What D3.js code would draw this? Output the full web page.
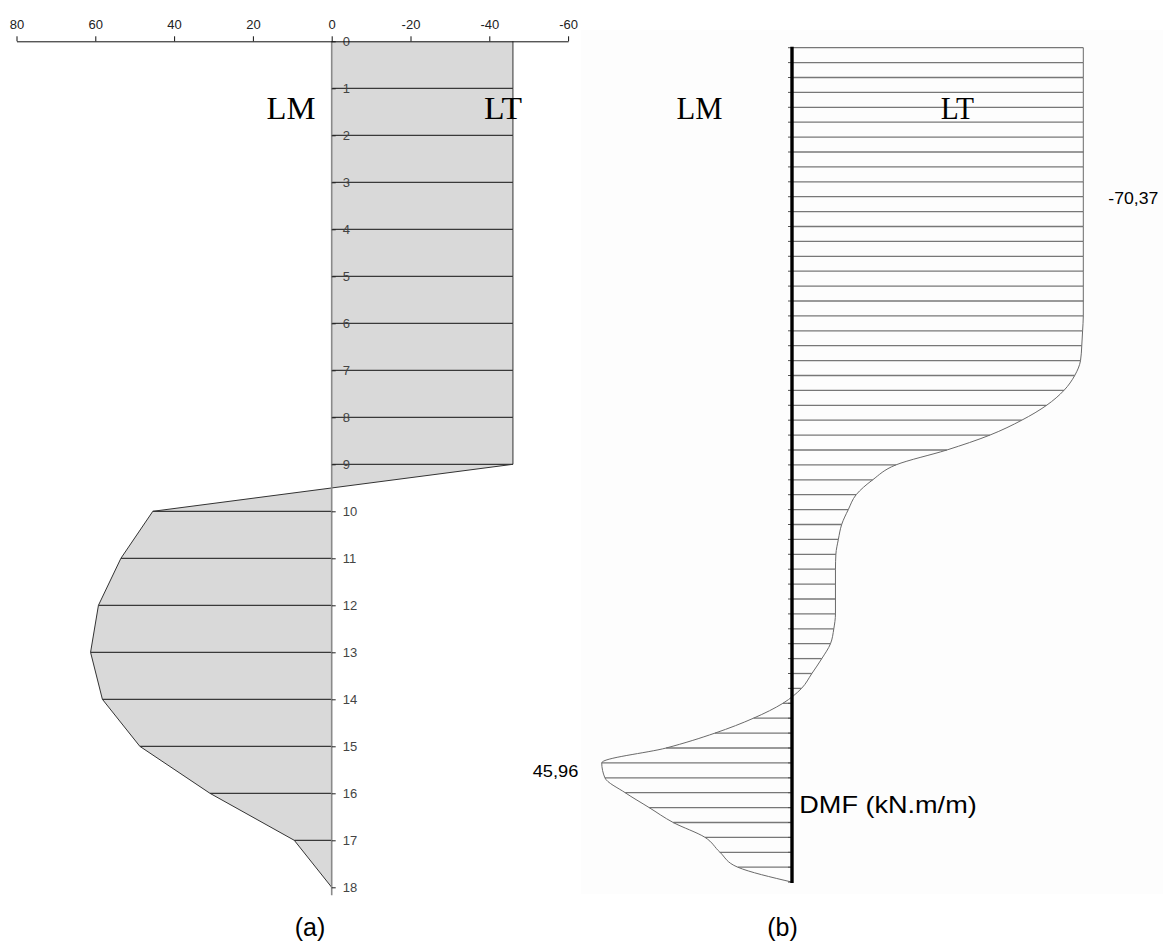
<!DOCTYPE html>
<html>
<head>
<meta charset="utf-8">
<script src="https://cdn.jsdelivr.net/npm/d3@7"></script>
<style>
  html, body { margin: 0; padding: 0; background: #ffffff; }
  svg { display: block; }
</style>
</head>
<body>
<svg id="chart" width="1163" height="945"></svg>
<script>
// ---- (a) bending moment profile, metres of depth vs kN.m/m ----
const depthA = [0, 1, 2, 3, 4, 5, 6, 7, 8, 9, 10, 11, 12, 13, 14, 15, 16, 17, 18];
const momentA = [-46, -46, -46, -46, -46, -46, -46, -46, -46, -46,
                 45.4, 53.5, 59.2, 61.2, 58.2, 48.7, 30.9, 9.5, 0];
const momentTicksA = [80, 60, 40, 20, 0, -20, -40, -60];

// ---- (b) DMF envelope, one value per hatch section ----
const sectionB = [0, 1, 2, 3, 4, 5, 6, 7, 8, 9, 10, 11, 12, 13, 14, 15, 16, 17, 18, 19,
                  20, 21, 22, 23, 24, 25, 26, 27, 28, 29, 30, 31, 32, 33, 34, 35, 36, 37, 38, 39,
                  40, 41, 42, 43, 44, 45, 46, 47, 48, 49, 50, 51, 52, 53, 54, 55, 56];
const momentB = [-70.37, -70.37, -70.37, -70.37, -70.37, -70.37, -70.37, -70.37, -70.37, -70.37,
                 -70.37, -70.37, -70.37, -70.37, -70.37, -70.37, -70.37, -70.37, -70.37, -70.2,
                 -70.0, -69.7, -68.3, -65.7, -61.5, -55.5, -47.8, -37.4, -25.1, -19.5,
                 -15.5, -13.6, -12.0, -11.2, -10.6, -10.5, -10.5, -10.5, -10.5, -10.1,
                 -9.3, -7.2, -4.8, -2.3, 2.2, 9.3, 18.6, 30.4, 45.96, 45.2,
                 40.3, 34.5, 28.7, 21.0, 17.4, 13.1, 0];
const maxLabelB = "-70,37";
const minLabelB = "45,96";

const svg = d3.select("#chart");

// ================= panel (a) =================
const xA = d3.scaleLinear().domain([80, -60]).range([16.5, 568.1]);
const yA = d3.scaleLinear().domain([0, 18]).range([41.3, 887.3]);
const ptsA = depthA.map((d, i) => ({ d, v: momentA[i] }));

const gA = svg.append("g");

// filled area between the moment line and the zero axis
gA.append("path")
  .datum(ptsA)
  .attr("fill", "#d9d9d9")
  .attr("d", d3.area()
    .y(p => yA(p.d))
    .x0(xA(0))
    .x1(p => xA(p.v)));

// drop lines from each point back to the axis
gA.selectAll("line.drop")
  .data(ptsA.filter(p => p.d > 0 && p.v !== 0))
  .join("line")
  .attr("class", "drop")
  .attr("x1", xA(0)).attr("x2", p => xA(p.v))
  .attr("y1", p => yA(p.d)).attr("y2", p => yA(p.d))
  .attr("stroke", "#111").attr("stroke-width", 1);

// moment line
gA.append("path")
  .datum(ptsA)
  .attr("fill", "none")
  .attr("stroke", "#333")
  .attr("stroke-width", 1)
  .attr("d", d3.line().y(p => yA(p.d)).x(p => xA(p.v)));

// depth axis
const depthAxis = gA.append("g")
  .attr("transform", `translate(${xA(0)},0)`)
  .call(d3.axisRight(yA).tickValues(depthA).tickSize(4).tickPadding(7).tickFormat(d => String(d)));
depthAxis.select(".domain").attr("stroke", "#8a8a8a").attr("stroke-width", 1.6)
  .attr("d", `M0,${yA(0)}V${yA(18) + 8}`);
depthAxis.selectAll(".tick line").attr("stroke", "#222");
depthAxis.selectAll(".tick text")
  .attr("fill", "#444")
  .style("font-family", "'Liberation Sans', Arial, sans-serif")
  .style("font-size", "13px");

// moment axis along the top
const momentAxis = gA.append("g")
  .attr("transform", `translate(0,${yA(0)})`)
  .call(d3.axisTop(xA).tickValues(momentTicksA).tickSize(5).tickSizeOuter(0).tickPadding(7)
    .tickFormat(d => String(d)));
momentAxis.select(".domain").attr("stroke", "#111");
momentAxis.selectAll(".tick line").attr("stroke", "#111");
momentAxis.selectAll(".tick text")
  .attr("fill", "#222")
  .style("font-family", "'Liberation Sans', Arial, sans-serif")
  .style("font-size", "13px");

const serif = "'Liberation Serif', 'Times New Roman', serif";
gA.append("text").attr("x", 266.5).attr("y", 119.3)
  .attr("textLength", 49).attr("lengthAdjust", "spacingAndGlyphs")
  .style("font-family", serif).style("font-size", "32px").text("LM");
gA.append("text").attr("x", 484).attr("y", 119.3)
  .attr("textLength", 38).attr("lengthAdjust", "spacingAndGlyphs")
  .style("font-family", serif).style("font-size", "32px").text("LT");
gA.append("text").attr("x", 310).attr("y", 936).attr("text-anchor", "middle")
  .style("font-family", "'Liberation Sans', Arial, sans-serif").style("font-size", "25px").text("(a)");

// ================= panel (b) =================
const xB = d3.scaleLinear().domain([0, -70.37]).range([792, 1083.3]);
const yB = d3.scaleLinear().domain([0, 56]).range([47.7, 882.1]);
const ptsB = sectionB.map((s, i) => ({ s, v: momentB[i] }));

const gB = svg.append("g");

gB.append("rect")
  .attr("x", 581).attr("y", 30).attr("width", 1163 - 581).attr("height", 894 - 30)
  .attr("fill", "#fdfdfd");

// hatch lines
gB.selectAll("line.hatch")
  .data(ptsB.filter(p => p.v !== 0))
  .join("line")
  .attr("class", "hatch")
  .attr("x1", xB(0)).attr("x2", p => xB(p.v))
  .attr("y1", p => yB(p.s)).attr("y2", p => yB(p.s))
  .attr("stroke", "#777").attr("stroke-width", 1.3);

// envelope outline
gB.append("path")
  .datum(ptsB)
  .attr("fill", "none")
  .attr("stroke", "#6a6a6a")
  .attr("stroke-width", 1)
  .attr("d", d3.line().y(p => yB(p.s)).x(p => xB(p.v)).curve(d3.curveMonotoneY));

// small section marks on the wall line
gB.selectAll("line.mark")
  .data(ptsB)
  .join("line")
  .attr("class", "mark")
  .attr("x1", xB(0) - 4).attr("x2", xB(0))
  .attr("y1", p => yB(p.s)).attr("y2", p => yB(p.s))
  .attr("stroke", "#555").attr("stroke-width", 1);

// wall line
gB.append("line")
  .attr("x1", xB(0)).attr("x2", xB(0))
  .attr("y1", yB(0) - 1).attr("y2", yB(56) + 1)
  .attr("stroke", "#000").attr("stroke-width", 3.4);

const sans = "'Liberation Sans', Arial, sans-serif";
gB.append("text").attr("x", 676.5).attr("y", 119.3)
  .attr("textLength", 46).attr("lengthAdjust", "spacingAndGlyphs")
  .style("font-family", serif).style("font-size", "31px").text("LM");
gB.append("text").attr("x", 940.7).attr("y", 119.3)
  .attr("textLength", 33.3).attr("lengthAdjust", "spacingAndGlyphs")
  .style("font-family", serif).style("font-size", "31px").text("LT");

const iMin = momentB.indexOf(d3.max(momentB));
gB.append("text").attr("x", 1108.3).attr("y", 203.5)
  .attr("textLength", 50).attr("lengthAdjust", "spacingAndGlyphs")
  .style("font-family", sans).style("font-size", "16px").text(maxLabelB);
gB.append("text").attr("x", 532.7).attr("y", yB(iMin) + 14)
  .attr("textLength", 45.6).attr("lengthAdjust", "spacingAndGlyphs")
  .style("font-family", sans).style("font-size", "16px").text(minLabelB);
gB.append("text").attr("x", 799.3).attr("y", 813.3)
  .attr("textLength", 177.4).attr("lengthAdjust", "spacingAndGlyphs")
  .style("font-family", sans).style("font-size", "24px").text("DMF (kN.m/m)");
gB.append("text").attr("x", 782.5).attr("y", 936).attr("text-anchor", "middle")
  .style("font-family", sans).style("font-size", "25px").text("(b)");
</script>
</body>
</html>
